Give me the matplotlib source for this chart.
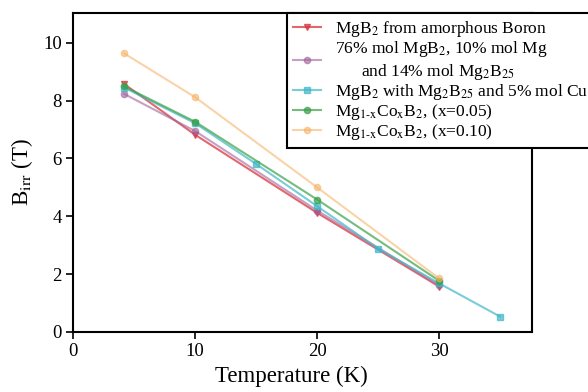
import matplotlib
matplotlib.use("Agg")
import matplotlib.pyplot as plt

plt.rcParams['font.family'] = ['Liberation Serif', 'DejaVu Serif']
plt.rcParams['mathtext.fontset'] = 'stix'

# Irreversibility field vs temperature for several MgB2-based samples
t_red = [4.2, 10, 20, 30]
b_red = [8.57, 6.82, 4.12, 1.57]

t_purple = [4.2, 10, 20, 30]
b_purple = [8.23, 6.95, 4.20, 1.62]

t_cyan = [4.2, 10, 15, 20, 25, 30, 35]
b_cyan = [8.45, 7.22, 5.81, 4.35, 2.88, 1.68, 0.53]

t_green = [4.2, 10, 20, 30]
b_green = [8.49, 7.27, 4.58, 1.77]

t_orange = [4.2, 10, 20, 30]
b_orange = [9.63, 8.12, 5.00, 1.85]

labels = [
    r'MgB$_2$ from amorphous Boron',
    '76% mol MgB$_2$, 10% mol Mg\n      and 14% mol Mg$_2$B$_{25}$',
    r'MgB$_2$ with Mg$_2$B$_{25}$ and 5% mol Cu',
    r'Mg$_{\mathrm{1\text{-}x}}$Co$_{\mathrm{x}}$B$_2$, (x=0.05)',
    r'Mg$_{\mathrm{1\text{-}x}}$Co$_{\mathrm{x}}$B$_2$, (x=0.10)',
]

fig = plt.figure(figsize=(5.88, 3.92), dpi=100)
ax = fig.add_axes([73 / 588, 1 - 332 / 392, (532 - 73) / 588, (332 - 13) / 392])

series = [
    (t_red, b_red, '#d9363e', 'v', 0.75),
    (t_purple, b_purple, '#a0609a', 'o', 0.6),
    (t_cyan, b_cyan, '#3fb8c8', 's', 0.7),
    (t_green, b_green, '#3aa048', 'o', 0.7),
    (t_orange, b_orange, '#f5b060', 'o', 0.55),
]
handles = []
for (t, b, c, m, a), lab in zip(series, labels):
    h, = ax.plot(t, b, color=c, marker=m, markersize=4.5, linewidth=1.5,
                 alpha=a, label=lab)
    handles.append(h)

ax.set_xlim(0, 37.6)
ax.set_ylim(0, 11.03)
ax.set_xticks([0, 10, 20, 30])
ax.set_yticks([0, 2, 4, 6, 8, 10])
ax.tick_params(direction='out', length=5, width=1.2, labelsize=13.5,
               top=False, right=False, pad=3)
for s in ax.spines.values():
    s.set_linewidth(1.5)

ax.set_xlabel('Temperature (K)', fontsize=16.5)
ax.xaxis.set_label_coords(0.475, -0.105)
ax.set_ylabel(r'B$_{\mathrm{irr}}$ (T)', fontsize=16.5, labelpad=6)

leg = fig.legend(handles=handles, loc='upper left',
                 bbox_to_anchor=(287 / 588, 1 - 13 / 392),
                 fontsize=12.5, frameon=True, fancybox=False,
                 handlelength=1.6, handletextpad=0.8, borderaxespad=0,
                 labelspacing=0.0, borderpad=0.35, framealpha=1)
leg.get_frame().set_edgecolor('black')
leg.get_frame().set_linewidth(1.5)

fig.savefig('out.png', dpi=100)
